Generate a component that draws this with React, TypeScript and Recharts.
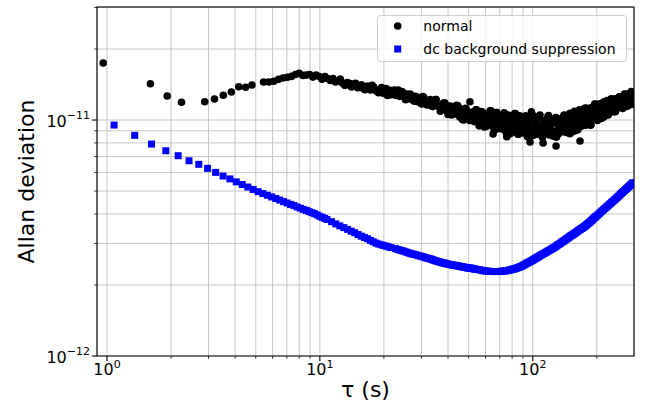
import React from 'react';
import { ScatterChart, Scatter, XAxis, YAxis, CartesianGrid, Legend, ReferenceArea } from 'recharts';

const FONT = "'DejaVu Sans', 'Bitstream Vera Sans', sans-serif";

// tau (s), Allan deviation in units of 1e-12
const normalPoints: [number, number][] = [
  [0.96, 17.44], [1.6, 14.25], [1.92, 12.64], [2.24, 11.89], [2.88, 11.95], [3.2, 12.27], [3.52, 12.73],
  [3.84, 13.14], [4.16, 13.84], [4.48, 13.76], [4.8, 14.07], [5.44, 14.49], [5.76, 14.49], [6.08, 14.59],
  [6.4, 14.87], [6.72, 15.06], [7.04, 15.17], [7.36, 15.31], [7.68, 15.6], [8.0, 15.77], [8.32, 15.46], [8.64, 15.5],
  [8.96, 15.6], [9.28, 15.2], [9.6, 15.5], [9.92, 15.3], [10.24, 14.9], [10.56, 15.3], [10.88, 15.0], [11.2, 14.7],
  [11.52, 15.0], [11.84, 14.5], [12.16, 14.6], [12.48, 14.9], [12.8, 14.3], [13.12, 14.0], [13.44, 14.4], [13.76, 14.3],
  [14.08, 13.8], [14.4, 14.2], [14.72, 14.3], [15.04, 13.7], [15.36, 13.8], [15.68, 14.1], [16.0, 13.6],
  [16.64, 13.9], [17.28, 13.4], [17.92, 13.8], [18.56, 13.2], [19.2, 13.5], [19.84, 13.0], [20.48, 13.6], [21.12, 13.1],
  [21.76, 12.8], [22.4, 13.4], [23.04, 12.9], [23.68, 12.6], [24.32, 13.2], [24.96, 12.5], [25.6, 12.9], [26.24, 12.3],
  [26.88, 12.7], [27.52, 12.1], [28.16, 12.6], [28.8, 12.0], [29.44, 12.4], [30.08, 11.7], [30.72, 12.5], [31.36, 11.9], [32.0, 11.6],
  [16.32, 13.45], [16.96, 13.9], [17.6, 14.05], [18.24, 13.37], [18.88, 13.05], [19.52, 13.72], [20.16, 13.3], [20.8, 12.7],
  [21.44, 13.38], [22.08, 13.15], [22.72, 12.72], [23.36, 13.4], [24.0, 12.7], [24.64, 13.02], [25.28, 12.2], [25.92, 12.71],
  [26.56, 12.9], [27.2, 12.23], [27.84, 12.02], [28.48, 12.35], [29.12, 11.93], [29.76, 12.37], [30.4, 12.57], [31.04, 11.9], [31.68, 11.6],
  [32.96, 12.2], [33.92, 11.4], [34.88, 12.2], [35.84, 11.5], [36.8, 10.9], [37.76, 11.6], [38.72, 11.8], [39.68, 10.9],
  [40.64, 11.2], [41.6, 10.5], [42.56, 11.3], [43.52, 10.7], [44.48, 11.5], [45.44, 10.3], [46.4, 10.8], [47.36, 10.0],
  [48.32, 11.2], [49.28, 10.55], [50.24, 10.2], [50.7, 11.95], [51.2, 10.75], [52.16, 10.8], [53.12, 9.85], [54.08, 11.05],
  [55.04, 10.15], [56.0, 9.45], [56.96, 10.5], [57.92, 10.8], [58.88, 9.75], [59.84, 10.25], [60.8, 9.4], [61.76, 10.6],
  [62.72, 9.8], [63.68, 10.95], [64.64, 9.45], [65.1, 8.72], [65.6, 10.2], [66.56, 9.1], [67.52, 10.75], [68.48, 9.95],
  [69.44, 9.5], [70.4, 10.3], [71.36, 10.35], [72.32, 9.15], [73.28, 10.7], [74.24, 9.6], [75.2, 8.8], [75.5, 8.49],
  [76.16, 10.05], [77.12, 10.45], [78.08, 9.2], [79.04, 9.8], [80.0, 8.9], [80.96, 10.25], [81.92, 9.35], [82.88, 10.65],
  [83.84, 9.0], [84.8, 9.8], [85.76, 8.7], [86.72, 10.4], [87.68, 9.55], [88.64, 9.15], [89.6, 9.95], [90.56, 10.0],
  [91.52, 8.8], [92.48, 10.4], [93.44, 9.3], [94.4, 8.5], [95.36, 9.8],
  [33.28, 11.5], [34.24, 12.0], [35.2, 12.2], [36.16, 11.4], [37.12, 11.0], [38.08, 11.8], [39.04, 11.3], [40.0, 10.55],
  [40.96, 11.45], [41.92, 11.15], [42.88, 10.6], [43.84, 11.55], [44.8, 10.65], [45.76, 11.15], [46.72, 10.05], [47.68, 10.85],
  [48.64, 11.15], [49.6, 10.25], [50.56, 9.95], [51.52, 10.55], [52.48, 9.95], [53.44, 10.7], [54.4, 11.05], [55.36, 10.05],
  [56.32, 9.65], [57.28, 10.85], [58.24, 10.2], [59.2, 9.35], [60.16, 10.6], [61.12, 10.3], [62.08, 9.65], [63.04, 10.95],
  [64.0, 9.85], [64.96, 10.6], [65.92, 9.1], [66.88, 10.25], [67.84, 10.75], [68.8, 9.5], [69.76, 9.2], [70.72, 10.0],
  [71.68, 9.25], [72.64, 10.25], [73.6, 10.7], [74.56, 9.5], [75.52, 9.0], [76.48, 10.5], [77.44, 9.75], [78.4, 8.75],
  [79.36, 10.2], [80.32, 9.9], [81.28, 9.2], [82.24, 10.65], [83.2, 9.45], [84.16, 10.2], [85.12, 8.7], [86.08, 9.9],
  [87.04, 10.4], [88.0, 9.15], [88.96, 8.85], [89.92, 9.65], [90.88, 8.95], [91.84, 9.95], [92.8, 10.4], [93.76, 9.2],
  [94.72, 8.7], [95.68, 10.2],
  [96.64, 9.2], [97.1, 8.07], [98.56, 10.3], [98.6, 10.84], [100.48, 8.6], [102.4, 9.7], [104.32, 10.1], [106.24, 9.0],
  [108.16, 10.5], [110.08, 9.35], [111.8, 7.99], [112.0, 8.75], [113.92, 9.85], [115.84, 9.25], [117.76, 10.35], [119.68, 8.65],
  [121.6, 9.55], [123.52, 9.95], [125.44, 8.85], [127.36, 9.75], [128.7, 7.76], [129.28, 8.45], [131.2, 10.15], [133.12, 9.45],
  [135.04, 9.1], [136.96, 10.1], [138.88, 9.35], [140.8, 10.5], [142.72, 8.95], [144.64, 9.85], [146.56, 9.2], [148.48, 10.55],
  [149.6, 10.67], [150.4, 9.65], [152.32, 8.9], [154.24, 9.55], [156.16, 10.7], [158.08, 9.0], [160.0, 10.15], [161.92, 10.6],
  [163.84, 9.55], [165.76, 11.05], [166.8, 8.15], [167.68, 10.0], [169.6, 9.45], [171.52, 10.6], [173.44, 10.0], [175.36, 11.2],
  [177.28, 9.5], [179.2, 10.45], [181.12, 10.9], [183.04, 9.8], [184.96, 10.8], [186.88, 9.5], [188.8, 11.3], [190.72, 10.6],
  [192.64, 10.25], [194.56, 11.3], [196.48, 10.5], [198.4, 11.65], [200.32, 10.1], [202.24, 11.05], [204.16, 10.4], [206.08, 11.7],
  [208.0, 10.85], [209.92, 10.15], [211.84, 10.75], [213.76, 11.85], [215.68, 10.3], [217.6, 11.35], [219.52, 11.75], [221.44, 10.8],
  [223.36, 12.1], [225.28, 11.2], [227.2, 10.75], [229.12, 11.7], [231.04, 11.25], [232.96, 12.2], [234.88, 10.85], [236.8, 11.6],
  [238.72, 11.95], [240.64, 11.1], [242.56, 11.85], [244.48, 10.85], [246.4, 12.25], [248.32, 11.7], [250.24, 11.45], [252.16, 12.25],
  [254.08, 11.65], [256.0, 12.5], [257.92, 11.35], [259.84, 12.05], [261.76, 11.55], [263.68, 12.55], [265.6, 11.9], [267.52, 11.35],
  [269.44, 11.8], [270.0, 12.9], [271.36, 12.65], [273.28, 11.4], [275.2, 12.25], [277.12, 12.55], [279.04, 11.75], [280.96, 12.9],
  [282.88, 12.1], [284.8, 11.65], [286.72, 12.5], [288.64, 12.05], [290.0, 13.2], [290.56, 12.95], [292.48, 11.65], [294.4, 12.35],
  [296.32, 12.7], [298.24, 11.8],
  [97.6, 8.9], [99.52, 9.9], [101.44, 10.4], [103.36, 9.2], [105.28, 8.7], [107.2, 10.2], [109.12, 9.47], [111.04, 8.45],
  [112.96, 9.95], [114.88, 9.65], [116.8, 8.95], [118.72, 10.45], [120.64, 9.25], [122.56, 10.05], [124.48, 8.55], [126.4, 9.75],
  [128.32, 10.25], [130.24, 9.05], [132.16, 8.75], [134.08, 9.55], [136.0, 8.9], [137.92, 9.9], [139.84, 10.45], [141.76, 9.3],
  [143.68, 8.85], [145.6, 10.4], [147.52, 9.7], [149.44, 8.75], [151.36, 10.3], [153.28, 10.0], [155.2, 9.35], [157.12, 10.9],
  [159.04, 9.75], [160.96, 10.55], [162.88, 9.1], [164.8, 10.35], [166.72, 10.9], [168.64, 9.75], [170.56, 9.45], [172.48, 10.3],
  [174.4, 9.65], [176.32, 10.7], [178.24, 11.25], [180.16, 10.1], [182.08, 9.6], [184.0, 11.15], [185.92, 10.5], [187.84, 9.55],
  [189.76, 11.1], [191.68, 10.85], [193.6, 10.2], [195.52, 11.7], [197.44, 10.55], [199.36, 11.4], [201.28, 9.95], [203.2, 11.15],
  [205.12, 11.65], [207.04, 10.55], [208.96, 10.3], [210.88, 11.1], [212.8, 10.5], [214.72, 11.45], [216.64, 11.95], [218.56, 10.9],
  [220.48, 10.5], [222.4, 11.85], [224.32, 11.3], [226.24, 10.5], [228.16, 11.8], [230.08, 11.55], [232.0, 11.0], [233.92, 12.3],
  [235.84, 11.35], [237.76, 12.0], [239.68, 10.85], [241.6, 11.85], [243.52, 12.3], [245.44, 11.35], [247.36, 11.15], [249.28, 11.8],
  [251.2, 11.3], [253.12, 12.1], [255.04, 12.55], [256.96, 11.65], [258.88, 11.3], [260.8, 12.45], [262.72, 11.95], [264.64, 11.2],
  [266.56, 12.4], [268.48, 12.2], [270.4, 11.65], [272.32, 12.85], [274.24, 11.95], [276.16, 12.55], [278.08, 11.45], [280.0, 12.4],
  [281.92, 12.8], [283.84, 11.85], [285.76, 11.65], [287.68, 12.3], [289.6, 11.75], [291.52, 12.55], [293.44, 13.0], [295.36, 12.05],
  [297.28, 11.7],
];

const dcPoints: [number, number][] = [
  [1.08, 9.52], [1.35, 8.61], [1.62, 7.91], [1.89, 7.41], [2.16, 7.06], [2.43, 6.72], [2.7, 6.49], [2.97, 6.24], [3.24, 6.0], [3.51, 5.79],
  [3.78, 5.63], [4.05, 5.47], [4.32, 5.33], [4.59, 5.2], [4.86, 5.08], [5.13, 4.97], [5.4, 4.88], [5.67, 4.8], [5.94, 4.72], [6.21, 4.65],
  [6.48, 4.58], [6.75, 4.51], [7.02, 4.45], [7.29, 4.39], [7.56, 4.34], [7.83, 4.28], [8.1, 4.23], [8.37, 4.18], [8.64, 4.14], [8.91, 4.09],
  [9.18, 4.05], [9.45, 4.01], [9.72, 3.96], [9.99, 3.91], [10.26, 3.87], [10.53, 3.83], [10.8, 3.79],
  [11.34, 3.71], [11.88, 3.63], [12.42, 3.56], [12.96, 3.5], [13.5, 3.44], [14.04, 3.38], [14.58, 3.33], [15.12, 3.27], [15.66, 3.22],
  [16.2, 3.18], [16.74, 3.14], [17.28, 3.09], [17.82, 3.05], [18.36, 3.01], [18.9, 2.98], [19.44, 2.96], [19.98, 2.94], [20.52, 2.92],
  [21.06, 2.9], [21.6, 2.88],
  [22.68, 2.85], [23.76, 2.81], [24.84, 2.78], [25.92, 2.74], [27.0, 2.71], [28.08, 2.69], [29.16, 2.66], [30.24, 2.64], [31.32, 2.61],
  [32.4, 2.59], [33.48, 2.57], [34.56, 2.54], [35.64, 2.52], [36.72, 2.5], [37.8, 2.48], [38.88, 2.47], [39.96, 2.45], [41.04, 2.44],
  [42.12, 2.43], [43.2, 2.42], [44.28, 2.41], [45.36, 2.4], [46.44, 2.39], [47.52, 2.38], [48.6, 2.37], [49.68, 2.36], [50.76, 2.36],
  [51.84, 2.35], [52.92, 2.34], [54.0, 2.33],
  [23.22, 2.83], [24.3, 2.795], [25.38, 2.76], [26.46, 2.725], [27.54, 2.7], [28.62, 2.675], [29.7, 2.65], [30.78, 2.625], [31.86, 2.6],
  [32.94, 2.58], [34.02, 2.555], [35.1, 2.53], [36.18, 2.51], [37.26, 2.49], [38.34, 2.475], [39.42, 2.46], [40.5, 2.445], [41.58, 2.435],
  [42.66, 2.425], [43.74, 2.415], [44.82, 2.405], [45.9, 2.395], [46.98, 2.385], [48.06, 2.375], [49.14, 2.365], [50.22, 2.36],
  [51.3, 2.355], [52.38, 2.345], [53.46, 2.335],
  [56.16, 2.32], [58.32, 2.3], [60.48, 2.29], [62.64, 2.285], [64.8, 2.28], [66.96, 2.28], [69.12, 2.28], [71.28, 2.285], [73.44, 2.29],
  [75.6, 2.3], [77.76, 2.31], [79.92, 2.33], [82.08, 2.34], [84.24, 2.36], [86.4, 2.38], [88.56, 2.4], [90.72, 2.43], [92.88, 2.46],
  [95.04, 2.49], [97.2, 2.51], [99.36, 2.54], [101.52, 2.57], [103.68, 2.6], [105.84, 2.63], [108.0, 2.66],
  [55.08, 2.325], [57.24, 2.31], [59.4, 2.295], [61.56, 2.288], [63.72, 2.282], [65.88, 2.28], [68.04, 2.28], [70.2, 2.282], [72.36, 2.288],
  [74.52, 2.295], [76.68, 2.305], [78.84, 2.32], [81.0, 2.335], [83.16, 2.35], [85.32, 2.37], [87.48, 2.39], [89.64, 2.415], [91.8, 2.445],
  [93.96, 2.475], [96.12, 2.5], [98.28, 2.525], [100.44, 2.555], [102.6, 2.585], [104.76, 2.615], [106.92, 2.645],
  [111.24, 2.7], [114.48, 2.74], [117.72, 2.78], [120.96, 2.82], [124.2, 2.86], [127.44, 2.9], [130.68, 2.95], [133.92, 2.99],
  [137.16, 3.04], [140.4, 3.08], [143.64, 3.13], [146.88, 3.17], [150.12, 3.22], [153.36, 3.26], [156.6, 3.3], [159.84, 3.34],
  [163.08, 3.39], [166.32, 3.43], [169.56, 3.47], [172.8, 3.51], [176.04, 3.55], [179.28, 3.6], [182.52, 3.65], [185.76, 3.7],
  [189.0, 3.75], [192.24, 3.81], [195.48, 3.86], [198.72, 3.91], [201.96, 3.96], [205.2, 4.01], [208.44, 4.07], [211.68, 4.12],
  [214.92, 4.17], [218.16, 4.22], [221.4, 4.27], [224.64, 4.32], [227.88, 4.37], [231.12, 4.42], [234.36, 4.47], [237.6, 4.52],
  [240.84, 4.57], [244.08, 4.62], [247.32, 4.67], [250.56, 4.72], [253.8, 4.77], [257.04, 4.82], [260.28, 4.88], [263.52, 4.93],
  [266.76, 4.98], [270.0, 5.03], [273.24, 5.08], [276.48, 5.13], [279.72, 5.18], [282.96, 5.23], [286.2, 5.28], [289.44, 5.33],
  [292.68, 5.38], [295.92, 5.43],
  [109.62, 2.68], [112.86, 2.72], [116.1, 2.76], [119.34, 2.8], [122.58, 2.84], [125.82, 2.88], [129.06, 2.925], [132.3, 2.97],
  [135.54, 3.015], [138.78, 3.06], [142.02, 3.105], [145.26, 3.15], [148.5, 3.195], [151.74, 3.24], [154.98, 3.28], [158.22, 3.32],
  [161.46, 3.365], [164.7, 3.41], [167.94, 3.45], [171.18, 3.49], [174.42, 3.53], [177.66, 3.575], [180.9, 3.625], [184.14, 3.675],
  [187.38, 3.725], [190.62, 3.78], [193.86, 3.835], [197.1, 3.885],
];

const seriesNames = ['normal', 'dc background suppression'];
const xMajorTicks = [1, 10, 100];
const xMinorTicks = [2, 3, 4, 5, 6, 7, 8, 9, 20, 30, 40, 50, 60, 70, 80, 90, 200];
const yMajorTicks = [1e-12, 1e-11];
const yMinorTicks = [2e-12, 3e-12, 4e-12, 5e-12, 6e-12, 7e-12, 8e-12, 9e-12, 2e-11, 3e-11];
const xDomain: [number, number] = [0.898, 299];
const yDomain: [number, number] = [1e-12, 3.013e-11];

const UNIT = 1e-12;
const normalData = normalPoints.map(([t, a]) => ({ x: t, y: a * UNIT }));
const dcData = dcPoints.map(([t, a]) => ({ x: t, y: a * UNIT }));
const xTicks = [...xMajorTicks, ...xMinorTicks].sort((a, b) => a - b);
const yTicks = [...yMajorTicks, ...yMinorTicks].sort((a, b) => a - b);

const expOf = (v: number) => {
  const e = Math.round(Math.log10(v));
  return e < 0 ? '\u2212' + String(-e) : String(e);
};

const XTick = (props: any) => {
  const { x, y, payload } = props;
  const v = payload.value;
  const major = xMajorTicks.includes(v);
  return (
    <g>
      <line x1={x} x2={x} y1={y} y2={y + (major ? 4.9 : 2.8)} stroke="#000" strokeWidth={major ? 1.1 : 0.8} />
      {major && (
        <text x={x} y={y + 19} textAnchor="middle" fontFamily={FONT} fill="#000">
          <tspan fontSize={16}>10</tspan>
          <tspan fontSize={11} dy={-7}>{expOf(v)}</tspan>
        </text>
      )}
    </g>
  );
};

const YTick = (props: any) => {
  const { x, y, payload } = props;
  const v = payload.value;
  const major = yMajorTicks.includes(v);
  return (
    <g>
      <line x1={x - (major ? 4.9 : 2.8)} x2={x} y1={y} y2={y} stroke="#000" strokeWidth={major ? 1.1 : 0.8} />
      {major && (
        <text x={x - 7} y={y + 6.7} textAnchor="end" fontFamily={FONT} fill="#000">
          <tspan fontSize={16}>10</tspan>
          <tspan fontSize={11} dy={-7.5}>{expOf(v)}</tspan>
        </text>
      )}
    </g>
  );
};

const YLabel = (props: any) => {
  const vb = props.viewBox || { x: 0, y: 7, width: 97, height: 349 };
  const cx = 34;
  const cy = vb.y + vb.height / 2;
  return (
    <text x={cx} y={cy} transform={`rotate(-90, ${cx}, ${cy})`} textAnchor="middle" fontSize={22} fontFamily={FONT} fill="#000">
      Allan deviation
    </text>
  );
};

const XLabel = (props: any) => {
  const vb = props.viewBox || { x: 97, y: 356, width: 537, height: 52 };
  const cx = vb.x + vb.width / 2;
  return (
    <text x={cx} y={397} textAnchor="middle" fontSize={22} fontFamily={FONT} fill="#000">
      τ (s)
    </text>
  );
};

const BlackDot = (p: any) => <circle cx={p.cx} cy={p.cy} r={3.8} fill="#000000" />;
const BlueSquare = (p: any) => <rect x={p.cx - 3.5} y={p.cy - 3.5} width={7} height={7} fill="#0000ff" />;

const LegendBox = (props: any) => {
  const fallback = seriesNames.map((n, i) => ({ value: n, type: i ? 'square' : 'circle', color: i ? '#0000ff' : '#000' }));
  const raw = props.payload && props.payload.length ? props.payload : fallback;
  const payload = [...raw].sort((a: any, b: any) => seriesNames.indexOf(a.value) - seriesNames.indexOf(b.value));
  return (
    <svg width={250} height={47} style={{ display: 'block' }}>
      <rect x={0.5} y={0.5} width={249} height={46} rx={3} fill="#ffffff" fillOpacity={0.8} stroke="#cccccc" strokeWidth={1} />
      {payload.map((p: any, i: number) => {
        const cy = 11 + 23 * i;
        return (
          <g key={i}>
            {p.type === 'square' ? (
              <rect x={20.7 - 3.5} y={cy - 3.5} width={7} height={7} fill={p.color} />
            ) : (
              <circle cx={20.7} cy={cy} r={3.8} fill={p.color} />
            )}
            <text x={46.3} y={cy + 5.3} fontSize={14} fontFamily={FONT} fill="#000">{p.value}</text>
          </g>
        );
      })}
    </svg>
  );
};

export default function App() {
  return (
    <div style={{ position: 'absolute', left: 0, top: 0, width: 647, height: 408, background: '#fff' }}>
      <ScatterChart width={647} height={408} margin={{ top: 7, right: 13, bottom: 0, left: 0 }}>
        <CartesianGrid stroke="#c6c6c6" strokeWidth={1} />
        <XAxis
          type="number"
          dataKey="x"
          scale="log"
          domain={xDomain}
          allowDataOverflow
          ticks={xTicks}
          interval={0}
          tick={(p: any) => <XTick {...p} />}
          tickLine={false}
          axisLine={false}
          tickSize={0}
          tickMargin={0}
          height={52}
          label={<XLabel />}
        />
        <YAxis
          type="number"
          dataKey="y"
          scale="log"
          domain={yDomain}
          allowDataOverflow
          ticks={yTicks}
          interval={0}
          tick={(p: any) => <YTick {...p} />}
          tickLine={false}
          axisLine={false}
          tickSize={0}
          tickMargin={0}
          width={97}
          label={<YLabel />}
        />
        <Scatter name={seriesNames[0]} data={normalData} fill="#000000" legendType="circle" shape={BlackDot} isAnimationActive={false} />
        <Scatter name={seriesNames[1]} data={dcData} fill="#0000ff" legendType="square" shape={BlueSquare} isAnimationActive={false} />
        <ReferenceArea x1={xDomain[0]} x2={xDomain[1]} y1={yDomain[0]} y2={yDomain[1]} fill="none" fillOpacity={0} stroke="#000" strokeWidth={1.1} ifOverflow="visible" />
        <Legend
          layout="vertical"
          align="center"
          verticalAlign="middle"
          itemSorter={null as any}
          content={(p: any) => <LegendBox {...p} />}
          wrapperStyle={{ left: 377, top: 15, width: 250, height: 47 }}
        />
      </ScatterChart>
    </div>
  );
}
